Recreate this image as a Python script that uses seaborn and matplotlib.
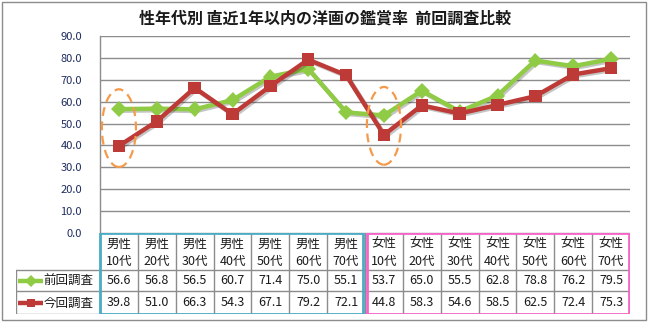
import numpy as np
import pandas as pd
import seaborn as sns
import matplotlib
matplotlib.use("Agg")
import matplotlib.pyplot as plt
import matplotlib.patheffects as pe
from matplotlib.patches import Ellipse, Rectangle
from matplotlib.lines import Line2D

# ---- data ----
title = "性年代別 直近1年以内の洋画の鑑賞率  前回調査比較"
genders = ["男性"] * 7 + ["女性"] * 7
ages = ["10代", "20代", "30代", "40代", "50代", "60代", "70代"] * 2
series_names = ["前回調査", "今回調査"]
prev_vals = [56.6, 56.8, 56.5, 60.7, 71.4, 75.0, 55.1,
             53.7, 65.0, 55.5, 62.8, 78.8, 76.2, 79.5]
curr_vals = [39.8, 51.0, 66.3, 54.3, 67.1, 79.2, 72.1,
             44.8, 58.3, 54.6, 58.5, 62.5, 72.4, 75.3]
yticks = [0, 10, 20, 30, 40, 50, 60, 70, 80, 90]
highlight_idx = [0, 7]

# ---- styling ----
GREEN = "#8FCB45"
RED = "#BE3A36"
GRID = "#8C8C8C"
BLUE_BOX = "#4BACC6"
PINK_BOX = "#F564C8"
ORANGE = "#F59A4A"
TXT = "#1A1A1A"
TICK = "#1F2D5F"

sns.set_theme(style="white")
plt.rcParams["font.family"] = ["Noto Sans CJK JP", "DejaVu Sans"]

W, H = 650, 324
fig = plt.figure(figsize=(W / 100, H / 100), dpi=100)
fig.patch.set_facecolor("white")


def box(x0, y0, x1, y1):
    return [x0 / W, 1 - y1 / H, (x1 - x0) / W, (y1 - y0) / H]


n = len(prev_vals)
df = pd.DataFrame({
    "idx": list(range(n)) * 2,
    "value": prev_vals + curr_vals,
    "series": [series_names[0]] * n + [series_names[1]] * n,
})

ax = fig.add_axes(box(100, 36, 630, 233))
shadow = [pe.SimpleLineShadow(offset=(1.2, -1.2), alpha=0.25), pe.Normal()]
for name, color, marker, ms in [(series_names[0], GREEN, "D", 8),
                                (series_names[1], RED, "s", 9)]:
    sub = df[df["series"] == name]
    sns.lineplot(data=sub, x="idx", y="value", ax=ax, color=color,
                 marker=marker, markersize=ms, markeredgewidth=0,
                 linewidth=3.2, legend=False, zorder=3)
for line in ax.lines:
    line.set_path_effects(shadow)

ax.set_xlim(-0.5, n - 0.5)
ax.set_ylim(0, 90)
ax.set_yticks(yticks)
ax.set_yticklabels([f"{v:.1f}" for v in yticks], color=TICK, fontsize=8)
ax.tick_params(axis="y", length=0, pad=13)
ax.set_xticks([])
ax.set_xlabel("")
ax.set_ylabel("")
ax.grid(axis="y", color=GRID, linewidth=1)
ax.set_axisbelow(True)
for s in ["top", "right", "bottom"]:
    ax.spines[s].set_visible(False)
ax.spines["left"].set_color(GRID)
ax.spines["left"].set_linewidth(1)

# dashed ellipses around the 10代 points
for i in highlight_idx:
    cy = (prev_vals[i] + curr_vals[i]) / 2 - 0.3
    e = Ellipse((i, cy), width=0.9, height=35.5, fill=False,
                edgecolor=ORANGE, linestyle=(0, (4, 2.5)), linewidth=1.6,
                zorder=4, clip_on=False)
    ax.add_patch(e)

# ---- data table ----
col_w = 530 / n
label_w = 84 / col_w
tx0 = -0.5 - label_w
tab = fig.add_axes(box(16, 233, 630, 314))
tab.set_xlim(tx0, n - 0.5)
tab.set_ylim(81, 0)
tab.axis("off")
r_head, r1, r2 = 37, 58, 81

for i in range(n + 1):
    tab.plot([i - 0.5, i - 0.5], [0, r2], color=GRID, lw=1, zorder=1)
tab.plot([tx0, tx0], [r_head, r2], color=GRID, lw=1, zorder=1)
for yy in [r_head, r1, r2]:
    tab.plot([tx0, n - 0.5], [yy, yy], color=GRID, lw=1, zorder=1)

tab.add_patch(Rectangle((-0.5, 0), 7 - 0.04, r2, fill=False,
                        edgecolor=BLUE_BOX, lw=2, zorder=3))
tab.add_patch(Rectangle((6.5 + 0.04, 0), 7 - 0.06, r2, fill=False,
                        edgecolor=PINK_BOX, lw=2, zorder=3))

for i in range(n):
    tab.text(i, 19.5, f"{genders[i]}\n{ages[i]}", ha="center",
             va="center", fontsize=9, color=TXT, linespacing=1.4)
    tab.text(i, (r_head + r1) / 2 + 0.5, f"{prev_vals[i]:.1f}", ha="center",
             va="center", fontsize=9, color=TXT)
    tab.text(i, (r1 + r2) / 2 + 0.5, f"{curr_vals[i]:.1f}", ha="center",
             va="center", fontsize=9, color=TXT)

# row headers with legend keys
for (yy0, yy1), name, color, marker in [((r_head, r1), series_names[0], GREEN, "D"),
                                        ((r1, r2), series_names[1], RED, "s")]:
    yc = (yy0 + yy1) / 2
    k0 = tx0 + 2 / col_w
    k1 = tx0 + 27 / col_w
    tab.add_line(Line2D([k0, k1], [yc, yc], color=color, lw=3.2,
                        solid_capstyle="butt"))
    tab.add_line(Line2D([(k0 + k1) / 2], [yc], color=color, marker=marker,
                        markersize=6, markeredgewidth=0))
    tab.text(k1 + 0.5 / col_w, yc + 0.5, name, ha="left", va="center",
             fontsize=9, color=TXT)

# ---- title and frame ----
fig.text(0.5, 1 - 19 / H, title, ha="center", va="center",
         fontsize=11.5, fontweight="bold", color=TXT)
fig.add_artist(Rectangle((2 / W, 1 - 320 / H), 644 / W, 318 / H,
                         transform=fig.transFigure, fill=False,
                         edgecolor=GRID, lw=1))

fig.savefig("out.png", dpi=100, facecolor="white")
